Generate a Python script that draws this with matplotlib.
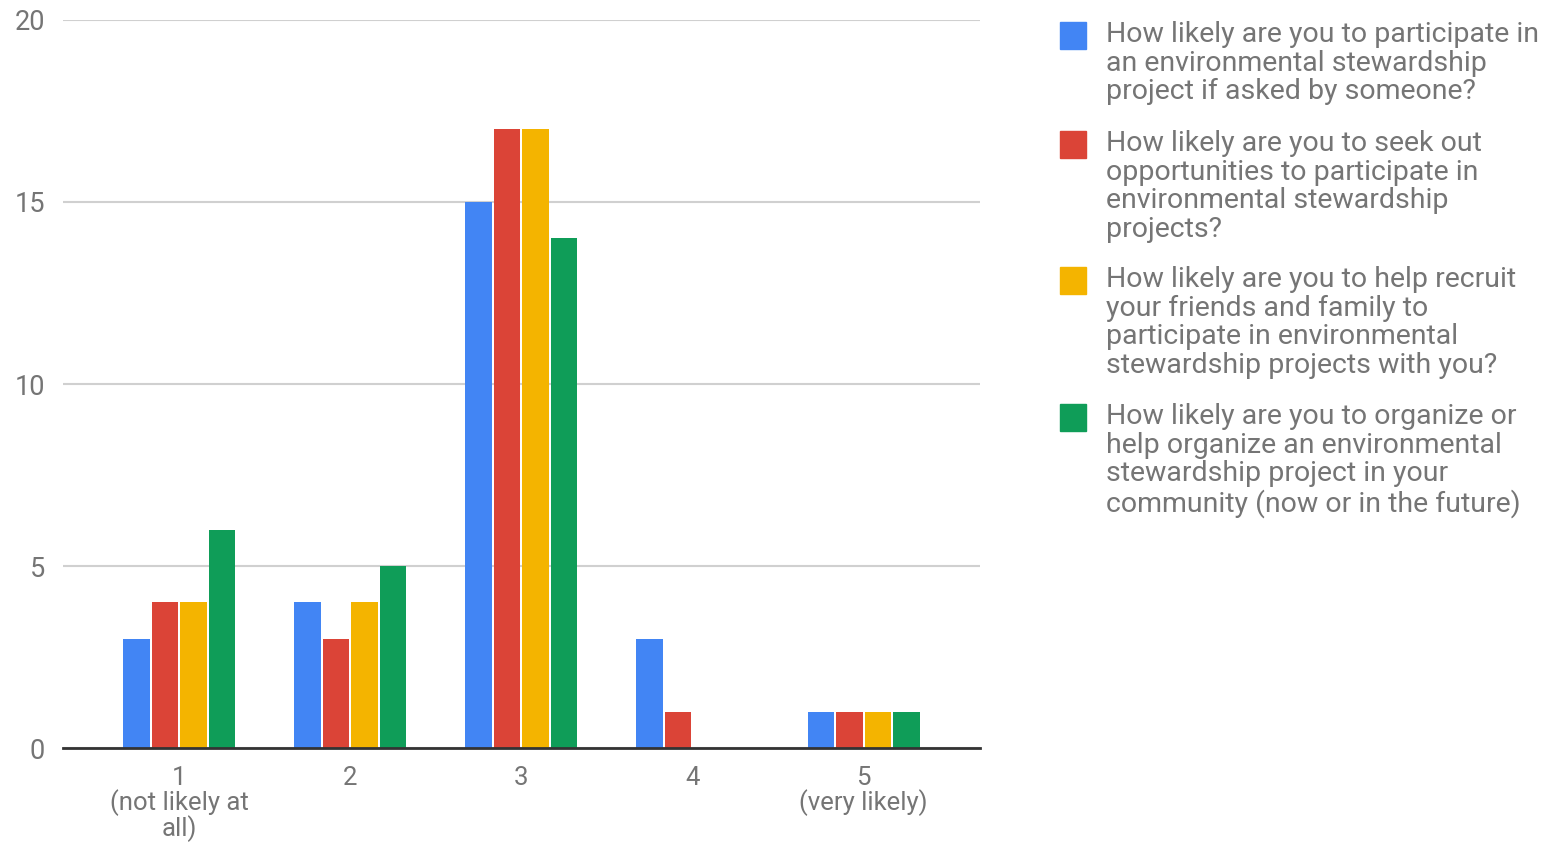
import numpy as np
import matplotlib.pyplot as plt
from matplotlib.patches import Rectangle

plt.rcParams['font.family'] = ['Roboto', 'DejaVu Sans']

categories = ["1\n(not likely at\nall)", "2", "3", "4", "5\n(very likely)"]
series_names = [
    "How likely are you to participate in\nan environmental stewardship\nproject if asked by someone?",
    "How likely are you to seek out\nopportunities to participate in\nenvironmental stewardship\nprojects?",
    "How likely are you to help recruit\nyour friends and family to\nparticipate in environmental\nstewardship projects with you?",
    "How likely are you to organize or\nhelp organize an environmental\nstewardship project in your\ncommunity (now or in the future)",
]
asked = [3, 4, 15, 3, 1]
seek_out = [4, 3, 17, 1, 1]
recruit = [4, 4, 17, 0, 1]
organize = [6, 5, 14, 0, 1]
series = [asked, seek_out, recruit, organize]
colors = ['#4285F4', '#DB4437', '#F4B400', '#0F9D58']

W, H = 1547, 846
fig = plt.figure(figsize=(W / 100, H / 100), dpi=100)
ax = fig.add_axes([63 / W, 1 - 748 / H, (980 - 63) / W, (748 - 20) / H])

x = np.arange(len(categories))
step = 0.1667
width = 0.155
for i, (vals, c) in enumerate(zip(series, colors)):
    ax.bar(x + (i - 1.5) * step, vals, width, color=c, zorder=3)

ax.set_xlim(-0.678, 4.68)
ax.set_ylim(0, 20)
ax.set_yticks([0, 5, 10, 15, 20])
ax.set_xticks(x)
ax.set_xticklabels(categories, linespacing=0.95)
ax.tick_params(axis='both', length=0, labelsize=19.5, labelcolor='#757575')
ax.tick_params(axis='x', labelsize=18.5)
ax.tick_params(axis='y', pad=13)
ax.tick_params(axis='x', pad=13)
ax.grid(axis='y', color='#d0d0d0', linewidth=1.5, zorder=0)
for s in ['top', 'right', 'left']:
    ax.spines[s].set_visible(False)
ax.spines['bottom'].set_color('#333333')
ax.spines['bottom'].set_linewidth(2)
ax.spines['bottom'].set_zorder(4)

# legend drawn by hand so squares line up with the first text line
tops = [22, 131, 267, 404]
for name, c, t in zip(series_names, colors, tops):
    fig.add_artist(Rectangle((1060 / W, 1 - (t + 27) / H), 26 / W, 27 / H,
                             transform=fig.transFigure, color=c))
    fig.text(1106 / W, 1 - (t - 1) / H, name, va='top', ha='left',
             fontsize=20.5, color='#757575', linespacing=1.08)

fig.savefig('out.png', dpi=100)
